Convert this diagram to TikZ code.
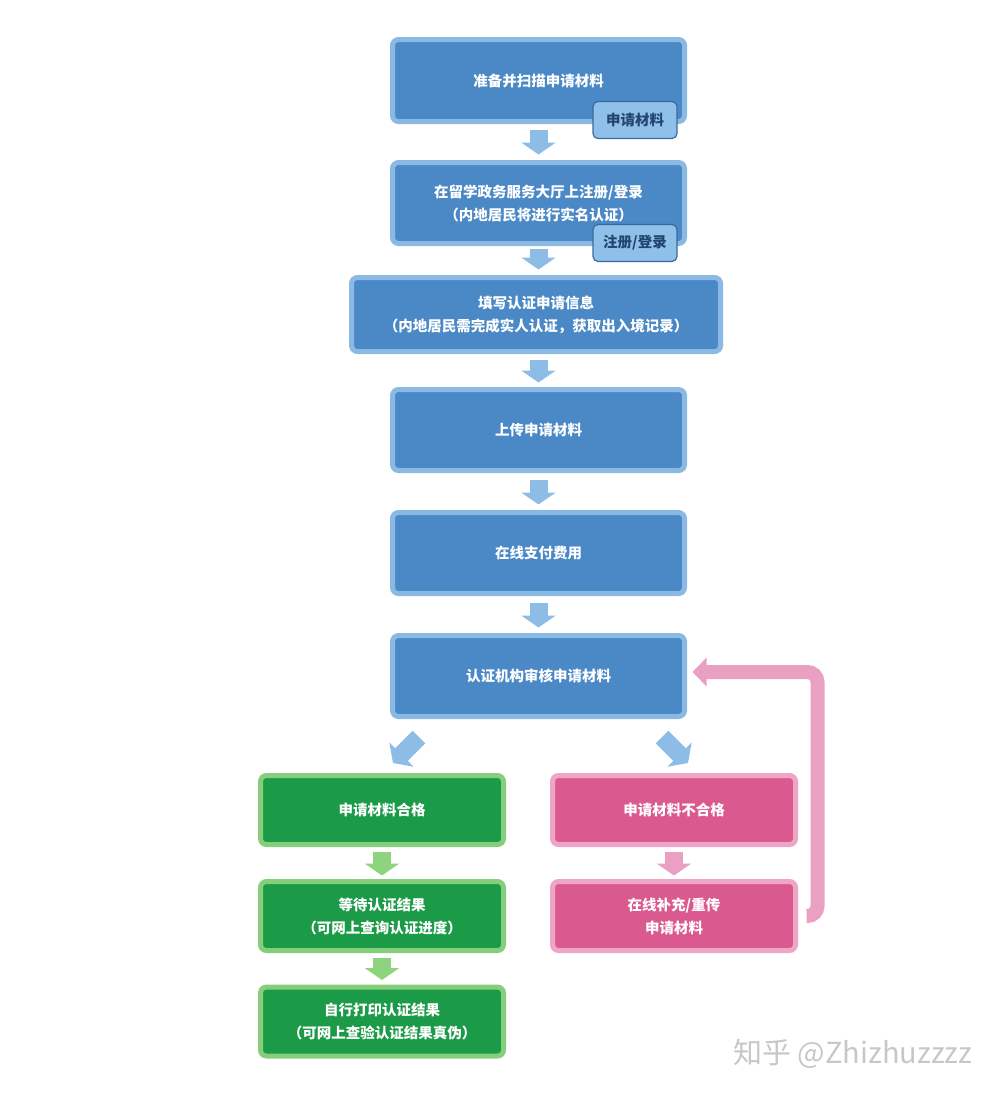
\documentclass[tikz,border=0pt]{standalone}
\usepackage{fontspec}
\setmainfont{Noto Sans CJK SC}
\usepackage{tikz}
\usepackage{xcolor}
\usetikzlibrary{arrows.meta}

\definecolor{bluefill}{HTML}{4A88C6}
\definecolor{blueedge}{HTML}{8AB9E3}
\definecolor{bluearrow}{HTML}{8DBDE6}
\definecolor{tagfill}{HTML}{8FC0EA}
\definecolor{tagedge}{HTML}{3A6A9C}
\definecolor{tagtext}{HTML}{23466F}
\definecolor{greenfill}{HTML}{1B9A48}
\definecolor{greenedge}{HTML}{85CF7C}
\definecolor{greenarrow}{HTML}{8ED47E}
\definecolor{pinkfill}{HTML}{DA5A90}
\definecolor{pinkedge}{HTML}{EEA5C6}
\definecolor{pinkarrow}{HTML}{E9A0C2}

\begin{document}
\begin{tikzpicture}[x=1pt, y=-1pt,
  box/.style={rectangle, rounded corners=6pt, line width=5pt, text=white,
    font=\fontsize{14.5}{23}\selectfont\bfseries, align=center, inner sep=0pt, outer sep=0pt},
  bluebox/.style={box, draw=blueedge, fill=bluefill, minimum width=292pt, minimum height=81pt},
  greenbox/.style={box, draw=greenedge, fill=greenfill, minimum width=243pt, minimum height=69pt},
  pinkbox/.style={box, draw=pinkedge, fill=pinkfill, minimum width=243pt, minimum height=69pt},
  tag/.style={rectangle, rounded corners=5pt, draw=tagedge, line width=1.2pt, fill=tagfill,
    text=tagtext, font=\fontsize{14.5}{17}\selectfont\bfseries, minimum width=84pt, minimum height=37pt, inner sep=0pt},
  flow/.style={line width=18pt, -{Triangle[width=34pt,length=12pt]}},
  back/.style={line width=14pt, rounded corners=10pt, draw=pinkarrow, -{Triangle[width=28pt,length=14pt]}}]
  \useasboundingbox (0,0) rectangle (1000,1096);

  \node (prep) [bluebox, minimum height=82pt] at (538.5,80.5) {准备并扫描申请材料};
  \node (tagA) [tag] at (635,120) {申请材料};
  \node (login) [bluebox] at (538.5,203) {在留学政务服务大厅上注册/登录\\（内地居民将进行实名认证）};
  \node (tagB) [tag] at (635,243) {注册/登录};
  \node (fill) [bluebox, minimum width=369pt, minimum height=74pt] at (536,314.5) {填写认证申请信息\\（内地居民需完成实人认证，获取出入境记录）};
  \node (upload) [bluebox] at (538.5,430) {上传申请材料};
  \node (pay) [bluebox] at (538.5,553) {在线支付费用};
  \node (review) [bluebox] at (538.5,676) {认证机构审核申请材料};

  \node (pass) [greenbox] at (382,810) {申请材料合格};
  \node (wait) [greenbox] at (382,916) {等待认证结果\\（可网上查询认证进度）};
  \node (print) [greenbox] at (382,1021.5) {自行打印认证结果\\（可网上查验认证结果真伪）};

  \node (fail) [pinkbox] at (674,810) {申请材料不合格};
  \node (redo) [pinkbox] at (674,916) {在线补充/重传\\申请材料};

  \coordinate (leftfrom) at (419,737);
  \coordinate (leftto) at (393,763);
  \coordinate (rightfrom) at (662,737);
  \coordinate (rightto) at (688,763);

  \draw[flow, draw=bluearrow, shorten <=8pt, shorten >=8pt] (prep) -- (login);
  \draw[flow, draw=bluearrow, shorten <=5pt, shorten >=8pt] (login) -- (fill.north -| login);
  \draw[flow, draw=bluearrow, shorten <=8pt, shorten >=7pt] (fill.south -| upload) -- (upload);
  \draw[flow, draw=bluearrow, shorten <=9pt, shorten >=8pt] (upload) -- (pay);
  \draw[flow, draw=bluearrow, shorten <=9pt, shorten >=8pt] (pay) -- (review);
  \draw[flow, draw=bluearrow] (leftfrom) -- (leftto);
  \draw[flow, draw=bluearrow] (rightfrom) -- (rightto);

  \draw[flow, draw=greenarrow, shorten <=7pt, shorten >=6pt] (pass) -- (wait);
  \draw[flow, draw=greenarrow, shorten <=7pt, shorten >=7pt] (wait) -- (print);
  \draw[flow, draw=pinkarrow, shorten <=7pt, shorten >=6pt] (fail) -- (redo);

  \draw[back, shorten >=8pt] ([xshift=11pt]redo.east) -- ++(11,0) |- ([yshift=4pt]review.east);

  \node (mark) [text=black!22, font=\fontsize{29}{32}\selectfont, anchor=east] at (976,1054) {知乎 @Zhizhuzzzz};
\end{tikzpicture}
\end{document}
